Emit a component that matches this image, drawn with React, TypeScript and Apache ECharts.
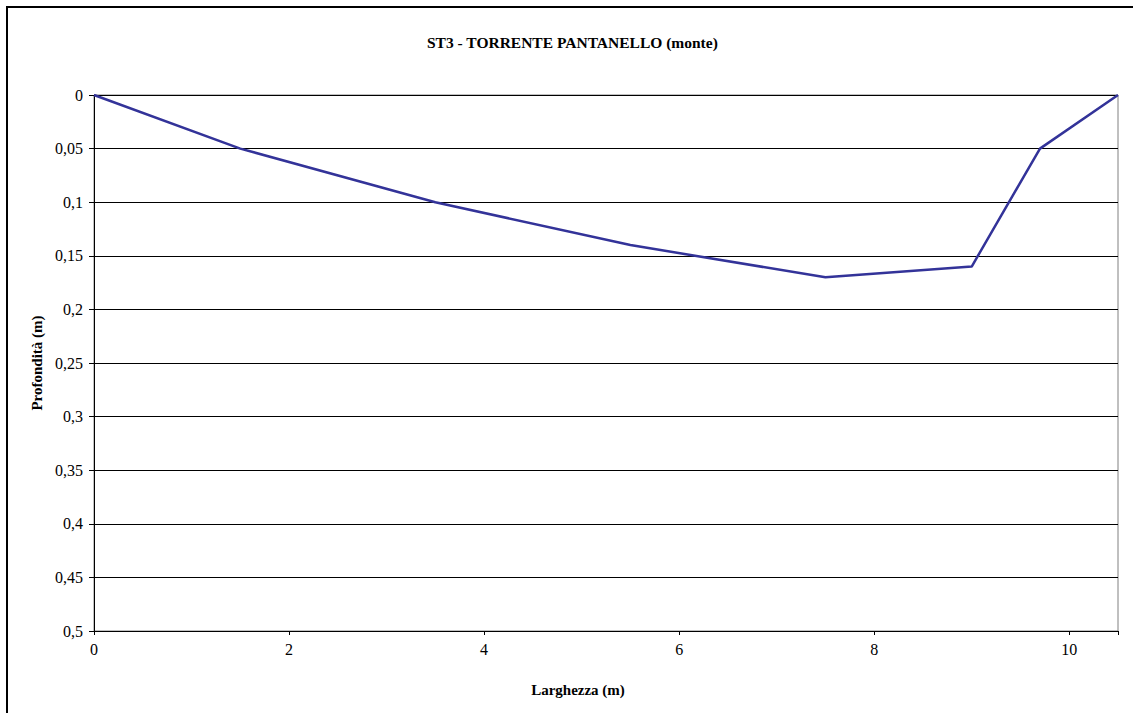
import React, { useEffect, useRef } from "react";
import * as echarts from "echarts";

const titleText = "ST3 - TORRENTE PANTANELLO (monte)";
const xName = "Larghezza (m)";
const yName = "Profondità (m)";
const widths = [0, 1.5, 3.5, 5.5, 7.5, 9, 9.7, 10.5];
const depths = [0, 0.05, 0.1, 0.14, 0.17, 0.16, 0.05, 0];

const FONT = "Liberation Serif";

export default function App() {
  const ref = useRef<HTMLDivElement>(null);
  useEffect(() => {
    if (!ref.current) return;
    const chart = echarts.init(ref.current, null, { renderer: "svg" });
    chart.setOption({
      animation: false,
      backgroundColor: "#ffffff",
      textStyle: { fontFamily: FONT },
      title: {
        text: titleText,
        left: 427,
        top: 34,
        padding: 0,
        textStyle: { fontFamily: FONT, fontSize: 15.5, fontWeight: "bold", color: "#000" },
      },
      graphic: [
        {
          type: "rect",
          shape: { x: 7, y: 7, width: 1140, height: 720 },
          style: { fill: "none", stroke: "#000", lineWidth: 2 },
          silent: true,
        },
      ],
      grid: {
        left: 94,
        right: 15,
        top: 95,
        bottom: 82,
        show: true,
        borderColor: "#808080",
        borderWidth: 1,
      },
      xAxis: {
        type: "value",
        min: 0,
        max: 10.5,
        interval: 2,
        name: xName,
        nameLocation: "middle",
        nameGap: 51,
        nameTextStyle: {
          fontFamily: FONT,
          fontSize: 15,
          fontWeight: "bold",
          color: "#000",
          padding: [0, 56, 0, 0],
        },
        axisLine: { onZero: false, lineStyle: { color: "#000", width: 1 } },
        axisTick: { show: true, length: 4, lineStyle: { color: "#000" } },
        axisLabel: {
          fontFamily: FONT,
          fontSize: 16,
          color: "#000",
          margin: 10,
          formatter: (v: number) => (v > 10.01 ? "" : String(v)),
        },
        splitLine: { show: false },
      },
      yAxis: {
        type: "value",
        inverse: true,
        min: 0,
        max: 0.5,
        interval: 0.05,
        name: yName,
        nameLocation: "middle",
        nameGap: 46,
        nameRotate: 90,
        nameTextStyle: { fontFamily: FONT, fontSize: 15, fontWeight: "bold", color: "#000" },
        axisLine: { onZero: false, lineStyle: { color: "#000", width: 1 } },
        axisTick: { show: true, length: 5, lineStyle: { color: "#000" } },
        axisLabel: {
          fontFamily: FONT,
          fontSize: 16,
          color: "#000",
          margin: 11,
          formatter: (v: number) => String(Math.round(v * 100) / 100).replace(".", ","),
        },
        splitLine: { show: true, lineStyle: { color: "#000", width: 1 } },
      },
      series: [
        {
          type: "line",
          data: widths.map((w, i) => [w, depths[i]]),
          symbol: "none",
          lineStyle: { color: "#333399", width: 2.5 },
          itemStyle: { color: "#333399" },
        },
      ],
    });
    return () => chart.dispose();
  }, []);
  return (
    <div
      ref={ref}
      style={{ position: "absolute", left: 0, top: 0, width: 1133, height: 713 }}
    />
  );
}
